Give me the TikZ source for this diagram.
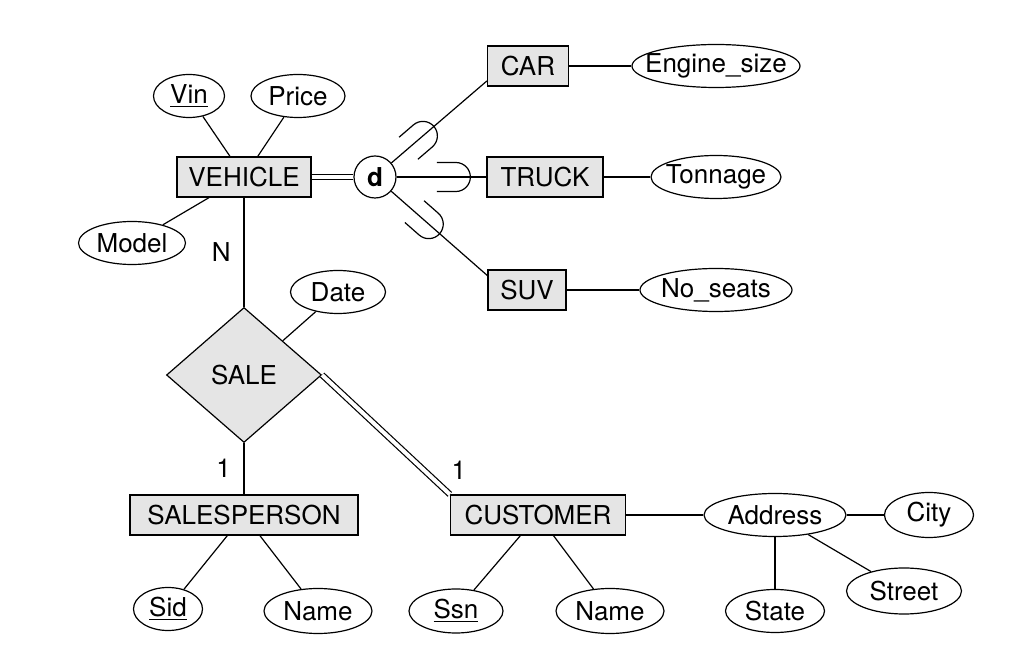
\documentclass[tikz,border=0pt]{standalone}
\usepackage{fontspec}
\setmainfont{TeX Gyre Heros}
\usepackage{tikz}
\usetikzlibrary{shapes.geometric,positioning}

% text of a fixed-size shape: no width of its own
\newcommand{\inshape}[1]{\makebox[0pt]{#1}}

\begin{document}
\begin{tikzpicture}[
  x=0.5pt, y=-0.5pt,
  line width=0.6pt,
  every node/.style={font=\fontsize{13}{15}\selectfont},
  entity/.style={draw, fill=black!10, rectangle, inner sep=0pt,
    minimum height=20pt},
  attr/.style={draw, fill=white, ellipse, inner sep=0pt,
    minimum height=21.5pt},
  relship/.style={draw, fill=black!10, diamond, inner sep=0pt,
    minimum width=77.5pt, minimum height=67.5pt},
  disjoint/.style={draw, fill=white, circle, inner sep=0pt,
    minimum size=21pt, font=\fontsize{13}{15}\selectfont\bfseries},
  total/.style={double, double distance=2pt},
  subsetmark/.pic={\draw (-9.5pt,7.25pt) -- (0pt,7.25pt)
    arc[start angle=90, end angle=-90, radius=7.25pt] -- (-9.5pt,-7.25pt);},
]
\useasboundingbox (0,0) rectangle (1024,662);

% Superclass and its attributes
\node[entity, minimum width=67pt] (vehicle) at (244,177) {\inshape{VEHICLE}};
\node[attr, minimum width=35.5pt] (vin) at (189,96) {\inshape{\underline{Vin}}};
\node[attr, minimum width=47pt] (price) at (298,96) {\inshape{Price}};
\node[attr, minimum width=53.5pt] (model) at (132,243) {\inshape{Model}};
\node[disjoint] (d) at (375,177) {d};

% Subclasses
\node[entity, minimum width=40.5pt] (car) at (528,66) {\inshape{CAR}};
\node[entity, minimum width=58pt] (truck) at (545,177) {\inshape{TRUCK}};
\node[entity, minimum width=39pt] (suv) at (527,290) {\inshape{SUV}};
\node[attr, minimum width=84pt] (engine) at (716,66) {\inshape{Engine\_size}};
\node[attr, minimum width=65pt] (tonnage) at (716,177) {\inshape{Tonnage}};
\node[attr, minimum width=76pt] (seats) at (716,290) {\inshape{No\_seats}};

% Relationship
\node[relship] (sale) at (244,375) {\inshape{SALE}};
\node[attr, minimum width=47.5pt] (date) at (338,292) {\inshape{Date}};

% Participating entities
\node[entity, minimum width=114pt] (salesperson) at (244,515) {\inshape{SALESPERSON}};
\node[entity, minimum width=87.5pt] (customer) at (538,515) {\inshape{CUSTOMER}};
\node[attr, minimum width=34.5pt] (sid) at (168,609) {\inshape{\underline{Sid}}};
\node[attr, minimum width=54pt, minimum height=22.5pt] (sname) at (318,611) {\inshape{Name}};
\node[attr, minimum width=47pt, minimum height=22pt] (ssn) at (456,611) {\inshape{\underline{Ssn}}};
\node[attr, minimum width=54pt, minimum height=22.5pt] (cname) at (610,611) {\inshape{Name}};
\node[attr, minimum width=71pt] (address) at (775,515) {\inshape{Address}};
\node[attr, minimum width=44.5pt, minimum height=22.5pt] (city) at (929,515) {\inshape{City}};
\node[attr, minimum width=57.5pt, minimum height=23pt] (street) at (904,591) {\inshape{Street}};
\node[attr, minimum width=49.5pt] (state) at (775,611) {\inshape{State}};

% Attribute links
\draw (vin) -- (vehicle);
\draw (price) -- (vehicle);
\draw (model) -- (vehicle);
\draw (car) -- (engine);
\draw (truck) -- (tonnage);
\draw (suv) -- (seats);
\draw (date) -- (sale);
\draw (salesperson) -- (sid);
\draw (salesperson) -- (sname);
\draw (customer) -- (ssn);
\draw (customer) -- (cname);
\draw (customer) -- (address);
\draw (address) -- (city);
\draw (address) -- (street);
\draw (address) -- (state);

% Specialization
\draw[total] (vehicle) -- (d);
\draw (d) -- pic[pos=0.33, sloped]{subsetmark} (car.200);
\draw (d) -- pic[pos=0.66, sloped]{subsetmark} (truck);
\draw (d) -- pic[pos=0.39, sloped]{subsetmark} (suv.160);

% Relationship links with cardinalities
\draw (vehicle) -- node[left=3pt] {N} (sale);
\draw (sale) -- node[left=3pt] {1} (salesperson);
\draw[total] (sale.east) -- node[pos=0.8, right=10pt] {1} (customer.north west);
\end{tikzpicture}
\end{document}
